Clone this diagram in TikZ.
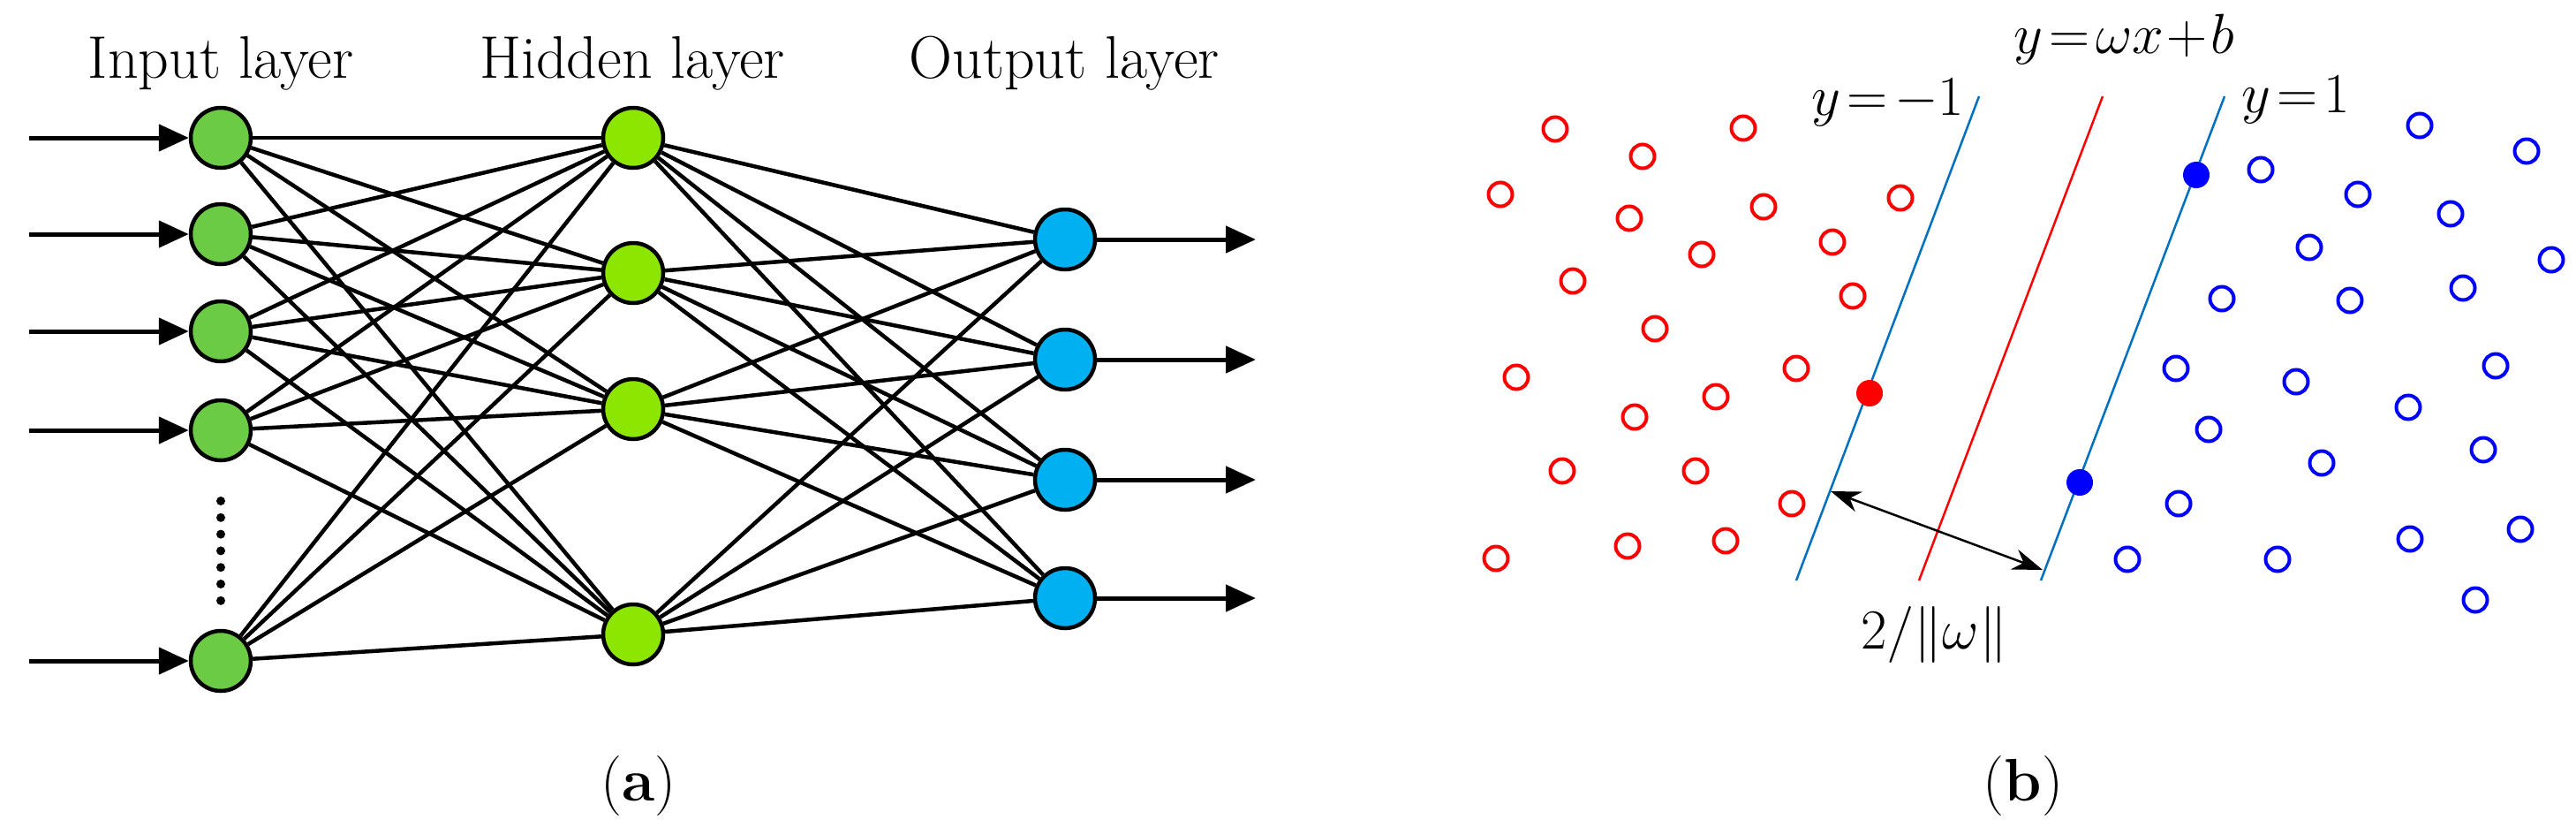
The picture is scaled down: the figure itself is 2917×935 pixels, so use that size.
\RequirePackage{fix-cm}
\documentclass[tikz,border=0pt]{standalone}
\usetikzlibrary{arrows.meta}
\begin{document}
\begin{tikzpicture}[x=1pt,y=-1pt,
  neuron/.style={circle,draw=black,line width=4.5pt,minimum size=68pt,inner sep=0pt},
  conn/.style={line width=4.5pt},
  io/.style={line width=5pt,-{Triangle[length=34pt,width=30pt]}},
  lbl/.style={font=\fontsize{68}{70}\selectfont},
  rc/.style={circle,draw=red,line width=4pt,minimum size=27pt,inner sep=0pt},
  bc/.style={circle,draw=blue,line width=4pt,minimum size=27pt,inner sep=0pt},
  mlbl/.style={font=\fontsize{64}{66}\selectfont}]
\useasboundingbox (0,0) rectangle (2917,935);
\definecolor{ingreen}{HTML}{6CCB45}
\definecolor{hidgreen}{HTML}{8CE600}
\definecolor{outblue}{HTML}{00B0F0}
\definecolor{svmblue}{HTML}{0070C0}
% layers
\foreach \i/\y in {1/156,2/265,3/375,4/487,5/748}
  \node[neuron,fill=ingreen] (i\i) at (250,\y) {};
\foreach \i/\y in {1/156,2/309,3/463,4/718}
  \node[neuron,fill=hidgreen] (h\i) at (717,\y) {};
\foreach \i/\y in {1/271,2/407,3/543,4/677}
  \node[neuron,fill=outblue] (o\i) at (1206,\y) {};
\foreach \i in {1,...,5}\foreach \j in {1,...,4}
  \draw[conn] (i\i) -- (h\j);
\foreach \i in {1,...,4}\foreach \j in {1,...,4}
  \draw[conn] (h\i) -- (o\j);
\foreach \i/\y in {1/156,2/265,3/375,4/487,5/748}{
  \coordinate (s\i) at (33,\y);
  \draw[io] (s\i) -- (i\i.west);}
\foreach \i/\y in {1/271,2/407,3/543,4/677}{
  \coordinate (e\i) at (1422,\y);
  \draw[io] (o\i.east) -- (e\i);}
\foreach \k in {0,...,6}
  \fill (250,567+\k*18.8) circle (5pt);
\node[lbl] (t1) at (250,72) {Input layer};
\node[lbl] (t2) at (716,72) {Hidden layer};
\node[lbl] (t3) at (1205,72) {Output layer};
\node[lbl] (ta) at (723,890) {(\textbf{a})};
% SVM
\coordinate (l1a) at (2241,109); \coordinate (l1b) at (2034,657);
\coordinate (l2a) at (2381,109); \coordinate (l2b) at (2173,657);
\coordinate (l3a) at (2519,109); \coordinate (l3b) at (2311,657);
\draw[svmblue,line width=2.5pt] (l1a) -- (l1b);
\draw[red,line width=2.5pt] (l2a) -- (l2b);
\draw[svmblue,line width=2.5pt] (l3a) -- (l3b);
\foreach \p [count=\n] in {(1761,146),(1974,145),(1860,177),(1699,220),(1845,247),(1997,234),(2152,224),(1927,288),(2075,274),(1781,318),(2098,335),(1874,372),(1717,427),(2034,417),(1943,449),(1851,472),(1769,533),(1920,533),(2029,570),(1694,632),(1843,618),(1954,612)}
  \node[rc] (r\n) at \p {};
\foreach \p [count=\n] in {(2740,142),(2861,171),(2560,192),(2670,220),(2775,242),(2615,280),(2889,294),(2516,338),(2661,340),(2789,326),(2826,414),(2464,417),(2600,432),(2727,461),(2501,486),(2812,509),(2629,524),(2467,570),(2854,599),(2729,610),(2409,633),(2579,633),(2803,679)}
  \node[bc] (b\n) at \p {};
\node[circle,fill=red,minimum size=30pt,inner sep=0pt] (sr) at (2117,445) {};
\node[circle,fill=blue,minimum size=30pt,inner sep=0pt] (sb1) at (2487,198) {};
\node[circle,fill=blue,minimum size=30pt,inner sep=0pt] (sb2) at (2355,546) {};
\coordinate (m1) at (2073,556); \coordinate (m2) at (2313,645);
\draw[line width=2.5pt,{Stealth[length=34pt,width=24pt]}-{Stealth[length=34pt,width=24pt]}] (m1) -- (m2);
\node[mlbl] (eq) at (2405,44) {$y\!=\!\omega x\!+\!b$};
\node[mlbl] (em) at (2138,116) {$y\!=\!-1$};
\node[mlbl] (ep) at (2600,113) {$y\!=\!1$};
\node[mlbl] (ew) at (2190,718) {$2/\|\omega\|$};
\node[lbl] (tb) at (2291,890) {(\textbf{b})};
\end{tikzpicture}
\end{document}
